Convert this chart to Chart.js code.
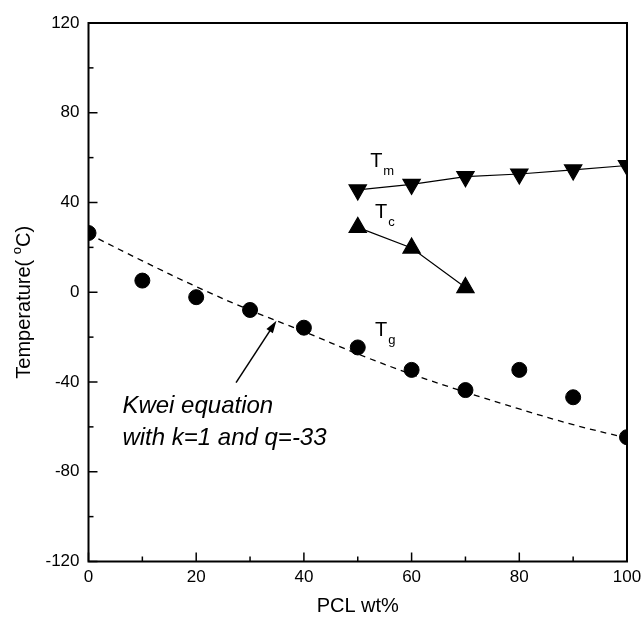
<!DOCTYPE html>
<html>
<head>
<meta charset="utf-8">
<script src="https://cdn.jsdelivr.net/npm/chart.js@4.4.1/dist/chart.umd.min.js"></script>
<style>
  html, body { margin: 0; padding: 0; background: #fff; overflow: hidden; }
  #wrap { width: 641px; height: 620px; position: relative; }
</style>
</head>
<body>
<div id="wrap"><canvas id="tempChart"></canvas></div>
<script>
// Data
const pclWt = [0, 10, 20, 30, 40, 50, 60, 70, 80, 90, 100];
const tgValues = [26.4, 5.2, -2.2, -7.9, -15.8, -24.6, -34.6, -43.6, -34.6, -46.8, -64.6];
const tmWt = [50, 60, 70, 80, 90, 100];
const tmValues = [45.6, 48.1, 51.5, 52.7, 54.5, 56.5];
const tcWt = [50, 60, 70];
const tcValues = [28.9, 19.7, 2.1];
// dashed Kwei fit
const kweiWt = [0, 10, 20, 30, 40, 50, 60, 70, 80, 90, 100];
const kweiValues = [26, 14, 2.5, -8, -17.5, -27.5, -36.5, -44.5, -52, -59, -65];
const xTicks = [0, 20, 40, 60, 80, 100];
const yTicks = [-120, -80, -40, 0, 40, 80, 120];

const pts = (xs, ys) => xs.map((x, i) => ({ x: x, y: ys[i] }));
const FONT = '"Liberation Sans", Arial, sans-serif';

// frame, inward ticks, labels and arrow
const decorations = {
  id: 'decorations',
  afterDraw(chart) {
    const { ctx, chartArea: a, scales: { x, y } } = chart;
    ctx.save();
    ctx.strokeStyle = '#000';
    ctx.lineWidth = 2;
    ctx.beginPath();
    ctx.moveTo(a.left, a.top);
    ctx.lineTo(a.right, a.top);
    ctx.lineTo(a.right, a.bottom);
    ctx.lineTo(a.left, a.bottom);
    ctx.closePath();
    ctx.stroke();

    ctx.lineWidth = 1.5;
    x.ticks.forEach(t => {
      const px = x.getPixelForValue(t.value);
      const len = xTicks.includes(t.value) ? 9 : 5;
      ctx.beginPath(); ctx.moveTo(px, a.bottom); ctx.lineTo(px, a.bottom - len); ctx.stroke();
    });
    y.ticks.forEach(t => {
      const py = y.getPixelForValue(t.value);
      const len = yTicks.includes(t.value) ? 9 : 5;
      ctx.beginPath(); ctx.moveTo(a.left, py); ctx.lineTo(a.left + len, py); ctx.stroke();
    });

    // series labels with subscripts
    ctx.fillStyle = '#000';
    ctx.textBaseline = 'alphabetic';
    const label = (xv, yv, sub) => {
      const px = x.getPixelForValue(xv), py = y.getPixelForValue(yv);
      ctx.font = '20px ' + FONT;
      ctx.fillText('T', px, py);
      const w = ctx.measureText('T').width;
      ctx.font = '13px ' + FONT;
      ctx.fillText(sub, px + w + 1, py + 8);
    };
    label(52.3, 56, 'm');
    label(53.2, 33, 'c');
    label(53.2, -19.4, 'g');

    // Kwei annotation
    ctx.font = 'italic 24px ' + FONT;
    ctx.fillText('Kwei equation', x.getPixelForValue(6.3), y.getPixelForValue(-54));
    ctx.fillText('with k=1 and q=-33', x.getPixelForValue(6.3), y.getPixelForValue(-68.1));

    // arrow to the curve
    const x0 = x.getPixelForValue(27.4), y0 = y.getPixelForValue(-40.3);
    const x1 = x.getPixelForValue(34.9), y1 = y.getPixelForValue(-12.7);
    const ang = Math.atan2(y1 - y0, x1 - x0);
    ctx.lineWidth = 1.5;
    ctx.beginPath(); ctx.moveTo(x0, y0);
    ctx.lineTo(x1 - 10 * Math.cos(ang), y1 - 10 * Math.sin(ang)); ctx.stroke();
    ctx.beginPath();
    ctx.moveTo(x1, y1);
    ctx.lineTo(x1 - 13 * Math.cos(ang - 0.3), y1 - 13 * Math.sin(ang - 0.3));
    ctx.lineTo(x1 - 13 * Math.cos(ang + 0.3), y1 - 13 * Math.sin(ang + 0.3));
    ctx.closePath(); ctx.fill();

    // y axis title with superscript o
    ctx.translate(24, (a.top + a.bottom) / 2 + 10);
    ctx.rotate(-Math.PI / 2);
    ctx.textBaseline = 'middle';
    const p1 = 'Temperature( ', p3 = 'C)';
    ctx.font = '20px ' + FONT;
    const w1 = ctx.measureText(p1).width, w3 = ctx.measureText(p3).width;
    ctx.font = '13px ' + FONT;
    const w2 = ctx.measureText('o').width;
    const sx = -(w1 + w2 + w3) / 2;
    ctx.font = '20px ' + FONT;
    ctx.fillText(p1, sx, 0);
    ctx.font = '13px ' + FONT;
    ctx.fillText('o', sx + w1, -7);
    ctx.font = '20px ' + FONT;
    ctx.fillText(p3, sx + w1 + w2, 0);
    ctx.restore();
  }
};

new Chart(document.getElementById('tempChart'), {
  type: 'scatter',
  data: {
    datasets: [
      {
        label: 'Kwei',
        type: 'line',
        data: pts(kweiWt, kweiValues),
        borderColor: '#000',
        borderWidth: 1.3,
        borderDash: [6, 5],
        pointRadius: 0,
        tension: 0.4,
        fill: false
      },
      {
        label: 'Tm',
        type: 'line',
        data: pts(tmWt, tmValues),
        borderColor: '#000',
        borderWidth: 1.2,
        pointStyle: 'triangle',
        rotation: 180,
        pointRadius: 10,
        pointBackgroundColor: '#000',
        pointBorderColor: '#000',
        fill: false
      },
      {
        label: 'Tc',
        type: 'line',
        data: pts(tcWt, tcValues),
        borderColor: '#000',
        borderWidth: 1.2,
        pointStyle: 'triangle',
        pointRadius: 10,
        pointBackgroundColor: '#000',
        pointBorderColor: '#000',
        fill: false
      },
      {
        label: 'Tg',
        data: pts(pclWt, tgValues),
        pointStyle: 'circle',
        pointRadius: 7.5,
        backgroundColor: '#000',
        borderColor: '#000'
      }
    ]
  },
  options: {
    responsive: true,
    maintainAspectRatio: false,
    animation: false,
    layout: { padding: { top: 23, right: 14, left: 0, bottom: 0 } },
    plugins: { legend: { display: false }, tooltip: { enabled: false } },
    scales: {
      x: {
        type: 'linear',
        min: 0, max: 100,
        afterFit: s => { s.height = 58.5; s.paddingLeft = 0; s.paddingRight = 0; },
        grid: { display: false, drawTicks: false },
        border: { display: false },
        ticks: {
          stepSize: 10, autoSkip: false, maxRotation: 0, padding: 6,
          color: '#000', font: { family: FONT, size: 17 },
          callback: v => (xTicks.includes(v) ? v : '')
        },
        title: {
          display: true, text: 'PCL wt%', color: '#000',
          font: { family: FONT, size: 20 }, padding: { top: 0, bottom: 2 }
        }
      },
      y: {
        min: -120, max: 120,
        afterFit: s => { s.width = 88.5; s.paddingTop = 0; s.paddingBottom = 0; },
        grid: { display: false, drawTicks: false },
        border: { display: false },
        ticks: {
          stepSize: 20, autoSkip: false, padding: 9,
          color: '#000', font: { family: FONT, size: 17 },
          callback: v => (yTicks.includes(v) ? v : '')
        }
      }
    }
  },
  plugins: [decorations]
});
</script>
</body>
</html>
